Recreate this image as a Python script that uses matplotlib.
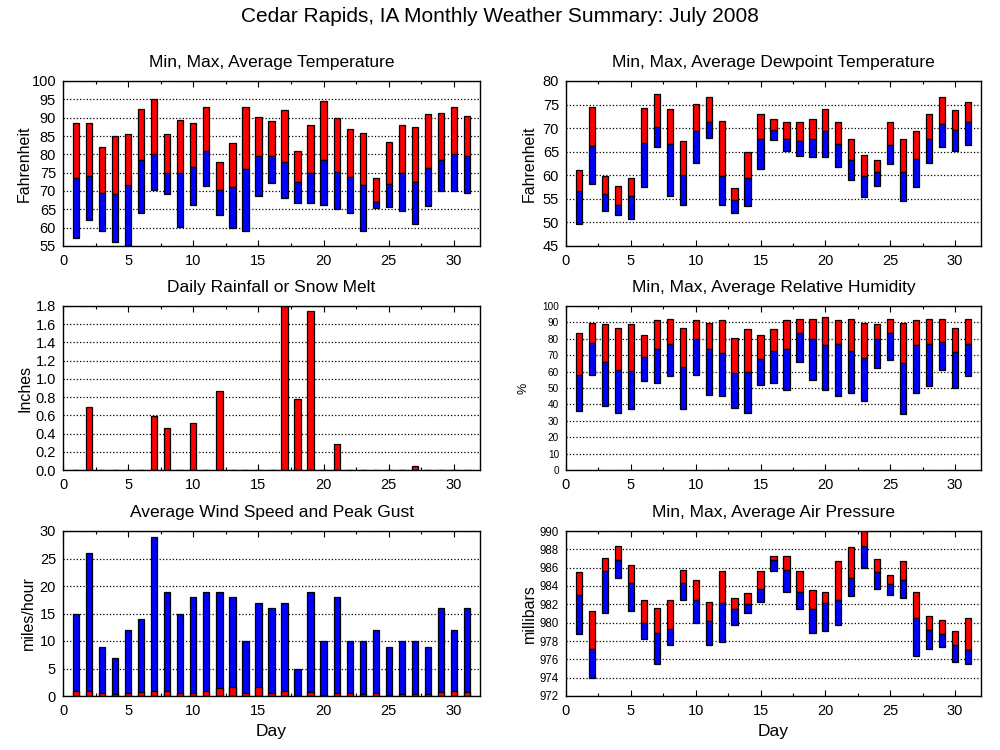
import numpy as np
import matplotlib.pyplot as plt
from matplotlib.ticker import MultipleLocator, FormatStrFormatter

plt.rcParams['font.family'] = ['Liberation Sans', 'DejaVu Sans']

days = np.arange(1, 32)

# temperature (F)
temp_max = [88.5, 88.5, 82, 85, 85.5, 92.3, 95.2, 85.5, 89.3, 88.5, 92.8, 78, 83, 92.8, 90.3, 89,
            92, 80.8, 88, 94.5, 90, 86.8, 85.7, 73.5, 83.3, 88, 87.5, 91, 91.3, 93, 90.5]
temp_avg = [73.6, 74, 69.5, 69.3, 71.5, 78.5, 80, 75, 74.8, 76.6, 81, 70.3, 71.2, 76, 79.6, 79.6,
            77.8, 72.5, 75, 78.5, 75.3, 73.8, 71.7, 67, 72, 75, 72.5, 76.3, 78.5, 80, 79.6]
temp_min = [57.1, 62, 59, 56, 54, 64, 70.3, 69.3, 60.3, 66.3, 71.5, 63.5, 59.8, 59, 68.5, 72.3,
            68, 66.8, 66.8, 66.3, 65, 64, 59, 65.3, 65.5, 64.5, 61, 65.8, 70, 70, 69.5]

# dewpoint (F)
dew_max = [61.2, 74.5, 59.9, 57.8, 59.5, 74.3, 77.3, 74, 67.2, 75.2, 76.7, 71.6, 57.2, 65, 73.1, 72,
           71.2, 71.2, 72, 74, 71.4, 67.8, 64.4, 63.3, 71.4, 67.8, 69.3, 72.9, 76.7, 73.8, 75.5]
dew_avg = [56.7, 66.2, 56.1, 53.7, 55.6, 66.9, 70.3, 66.7, 60.1, 69.5, 71.4, 59.9, 54.8, 59.5, 67.6, 69.5,
           67.8, 67.2, 67.7, 69.5, 66.7, 63.3, 59.9, 60.6, 66.5, 60.8, 63.5, 67.8, 70.8, 69.7, 71.4]
dew_min = [49.7, 58.2, 52.5, 51.6, 50.8, 57.6, 66.1, 55.6, 53.8, 62.7, 68, 53.8, 52.1, 53.5, 61.4, 67.4,
           65.2, 64, 63.8, 63.8, 61.8, 59.1, 55.5, 57.8, 62.5, 54.6, 57.6, 62.7, 66.1, 65.2, 66.5]

# rainfall (inches)
rain = [0, 0.69, 0, 0, 0, 0, 0.59, 0.46, 0, 0.515, 0, 0.865, 0, 0, 0, 0,
        1.8, 0.78, 1.74, 0, 0.285, 0, 0, 0, 0, 0, 0.045, 0, 0, 0, 0]

# relative humidity (%)
rh_max = [83.8, 89.9, 88.8, 86.8, 88.8, 82.2, 91.3, 91.9, 86.8, 91.3, 89.9, 91.3, 80.7, 85.8, 82.2, 85.8,
          91.3, 91.9, 91.9, 93.1, 91.3, 91.9, 89.9, 88.8, 91.9, 89.9, 91.3, 91.9, 91.9, 86.8, 91.9]
rh_avg = [58.2, 77.3, 65.7, 60.9, 60.2, 68.8, 73.6, 76.7, 62.7, 79.7, 73.6, 71.2, 59, 59.6, 67.5, 72.4,
          73.6, 83.4, 79.7, 76.1, 76.7, 72.4, 68.2, 79.7, 83.4, 65.1, 76.1, 76.7, 77.9, 71.8, 76.7]
rh_min = [35.9, 57.8, 38.9, 34.7, 36.9, 54.2, 52.9, 57.2, 37.1, 57.8, 45.6, 45, 37.7, 34.7, 51.7, 52.9,
          48.7, 65.9, 54.8, 48.7, 45, 46.9, 42, 62.1, 66.9, 34.1, 46.9, 51.1, 60.9, 49.9, 57.2]

# wind (mph)
wind_gust = [15, 26, 9, 7, 12, 14, 29, 19, 15, 18, 19, 19, 18, 10, 17, 16,
             17, 5, 19, 10, 18, 10, 10, 12, 9, 10, 10, 9, 16, 12, 16]
wind_avg = [0.85, 1.0, 0.5, 0.35, 0.5, 0.7, 1.0, 0.85, 0.5, 0.6, 0.85, 1.4, 1.6, 0.5, 1.6, 0.5,
            0.85, 0, 0.7, 0.1, 0.5, 0.5, 0.35, 0.5, 0.1, 0.3, 0.3, 0.3, 0.7, 0.85, 0.7]

# pressure (mb)
pres_max = [985.5, 981.3, 987.1, 988.4, 986.3, 982.5, 981.6, 982.5, 985.7, 984.6, 982.3, 985.6, 982.7, 983.2,
            985.6, 987.3, 987.3, 985.6, 983.6, 983.4, 986.7, 988.3, 990.3, 987.0, 985.2, 986.7, 983.4,
            980.7, 980.3, 979.1, 980.5]
pres_avg = [983.0, 977.1, 985.6, 986.8, 984.3, 980.0, 978.9, 979.3, 984.3, 982.5, 980.2, 982.2, 981.5, 982.0,
            983.7, 986.8, 985.7, 983.3, 981.5, 982.1, 982.5, 984.9, 988.4, 985.5, 984.2, 984.7, 980.5,
            979.2, 978.8, 977.6, 977.0]
pres_min = [978.8, 974.0, 981.1, 984.9, 981.3, 978.2, 975.5, 977.6, 982.5, 980.0, 977.6, 977.9, 979.8, 981.1,
            982.3, 985.6, 983.3, 981.5, 978.9, 979.1, 979.7, 982.9, 986.0, 983.7, 983.0, 982.7, 976.4,
            977.1, 977.3, 975.7, 975.5]

W = 0.48
RED = '#ff0000'
BLUE = '#0000ff'


def style(ax, ylim, step, ylabel, title, label_x, fmt=None, ysize=10.5, lsize=11.5):
    ax.set_xlim(0, 32)
    ax.set_ylim(*ylim)
    ax.xaxis.set_major_locator(MultipleLocator(5))
    ax.xaxis.set_minor_locator(MultipleLocator(2.5))
    ax.yaxis.set_major_locator(MultipleLocator(step))
    if fmt:
        ax.yaxis.set_major_formatter(FormatStrFormatter(fmt))
    ax.tick_params(axis='x', which='both', direction='in', top=True, labelsize=10.5, pad=6)
    ax.tick_params(axis='x', which='major', length=4, width=0.8)
    ax.tick_params(axis='x', which='minor', length=2, width=0.8)
    ax.tick_params(axis='y', which='both', length=0, labelsize=ysize, pad=5)
    ax.grid(axis='y', linestyle=':', color='black', linewidth=0.9)
    ax.set_axisbelow(True)
    ax.set_ylabel(ylabel, fontsize=lsize)
    ax.yaxis.set_label_coords(label_x, 0.5)
    ax.set_title(title, fontsize=12.5, pad=10)
    for s in ax.spines.values():
        s.set_linewidth(1.0)


def minmax(ax, hi, avg, lo):
    hi, avg, lo = np.array(hi), np.array(avg), np.array(lo)
    ax.bar(days, hi - avg, bottom=avg, width=W, color=RED, edgecolor='black', linewidth=0.9)
    ax.bar(days, avg - lo, bottom=lo, width=W, color=BLUE, edgecolor='black', linewidth=0.9)


fig = plt.figure(figsize=(10, 7.5), dpi=100)
fig.suptitle('Cedar Rapids, IA Monthly Weather Summary: July 2008', fontsize=15, y=0.99)

lx, lw = 0.063, 0.417
rx, rw = 0.566, 0.415
h = 0.22

ax1 = fig.add_axes([lx, 0.672, lw, h])
minmax(ax1, temp_max, temp_avg, temp_min)
style(ax1, (55, 100), 5, 'Fahrenheit', 'Min, Max, Average Temperature', -0.074)

ax2 = fig.add_axes([rx, 0.672, rw, h])
minmax(ax2, dew_max, dew_avg, dew_min)
style(ax2, (45, 80), 5, 'Fahrenheit', 'Min, Max, Average Dewpoint Temperature', -0.070)

ax3 = fig.add_axes([lx, 0.3733, lw, 0.2187])
ax3.bar(days, rain, width=W, color=RED, edgecolor='black', linewidth=0.9)
style(ax3, (0, 1.8), 0.2, 'Inches', 'Daily Rainfall or Snow Melt', -0.074, fmt='%.1f')

ax4 = fig.add_axes([rx, 0.3733, rw, 0.2187])
minmax(ax4, rh_max, rh_avg, rh_min)
style(ax4, (0, 100), 10, '%', 'Min, Max, Average Relative Humidity', -0.087, ysize=7.2, lsize=9)

ax5 = fig.add_axes([lx, 0.072, lw, h])
ax5.bar(days, wind_gust, width=W, color=BLUE, edgecolor='black', linewidth=0.9)
ax5.bar(days, wind_avg, width=W, color=RED, edgecolor='black', linewidth=0.9)
style(ax5, (0, 30), 5, 'miles/hour', 'Average Wind Speed and Peak Gust', -0.065)
ax5.set_xlabel('Day', fontsize=12.5, labelpad=4)

ax6 = fig.add_axes([rx, 0.072, rw, h])
minmax(ax6, pres_max, pres_avg, pres_min)
style(ax6, (972, 990), 2, 'millibars', 'Min, Max, Average Air Pressure', -0.070, ysize=8.3)
ax6.set_xlabel('Day', fontsize=12.5, labelpad=4)

fig.savefig('out.png', dpi=100)
